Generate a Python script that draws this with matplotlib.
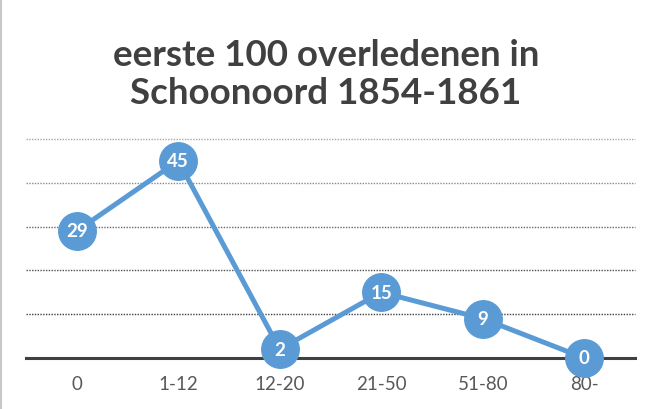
import matplotlib.pyplot as plt
from matplotlib.lines import Line2D

categories = ["0", "1-12", "12-20", "21-50", "51-80", "80-"]
values = [29, 45, 2, 15, 9, 0]
grid_levels = [10, 20, 30, 40, 50]

blue = "#5B9BD5"

fig = plt.figure(figsize=(6.52, 4.10), dpi=100)
ax = fig.add_axes([26 / 652, 1 - 359 / 410, 609 / 652, 219 / 410])

# dotted gridlines, darker toward the bottom like the original
grid_colors = ["#404040", "#505050", "#6a6a6a", "#8a8a8a", "#a8a8a8"]
for lvl, c in zip(grid_levels, grid_colors):
    ax.axhline(lvl, color=c, lw=1.0, ls=(0, (1, 1)), zorder=1, clip_on=False)
ax.axhline(0, color="#404040", lw=2.2, zorder=2, clip_on=False)

x = list(range(len(categories)))
ax.plot(x, values, color=blue, lw=3.6, marker="o", markersize=27,
        markerfacecolor=blue, markeredgecolor=blue, zorder=3, clip_on=False)
for xi, v in zip(x, values):
    ax.text(xi, v, str(v), ha="center", va="center", color="white",
            fontsize=13.5, fontweight="bold", family="Lato", zorder=4)

ax.set_xlim(-0.5, len(categories) - 0.5)
ax.set_ylim(0, 50)
ax.set_xticks(x)
ax.set_xticklabels(categories, family="Lato", fontsize=13.5, color="#595959")
ax.tick_params(axis="x", length=0, pad=12)
ax.set_yticks([])
for s in ax.spines.values():
    s.set_visible(False)

fig.text(0.5, 1 - 56 / 410, "eerste 100 overledenen in", ha="center", va="center",
         fontsize=26.5, fontweight="bold", family="Lato", color="#404040")
fig.text(0.5, 1 - 94 / 410, "Schoonoord 1854-1861", ha="center", va="center",
         fontsize=26.5, fontweight="bold", family="Lato", color="#404040")

# thin frame edge on the left like the screenshot
fig.add_artist(Line2D([0.0015, 0.0015], [0, 1], color="#c8c8c8", lw=1.5,
                      transform=fig.transFigure))

fig.savefig("out.png", dpi=100)
